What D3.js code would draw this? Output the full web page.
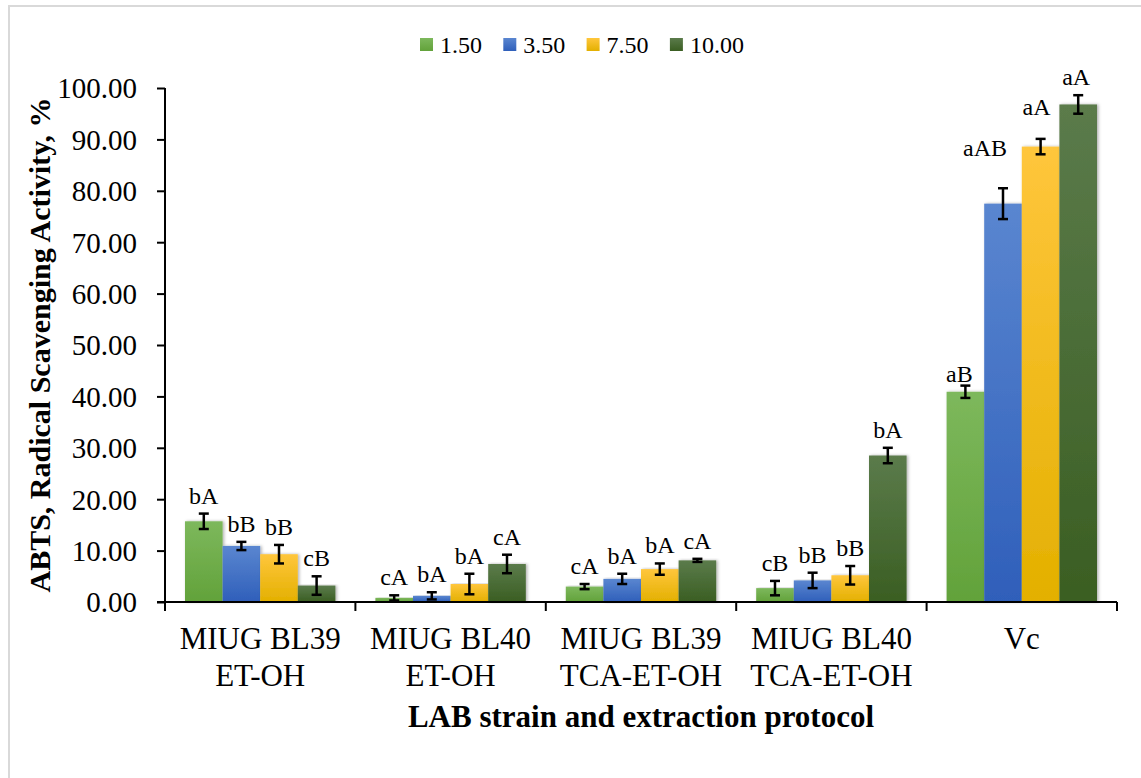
<!DOCTYPE html>
<html>
<head>
<meta charset="utf-8">
<script src="https://cdn.jsdelivr.net/npm/d3@7/dist/d3.min.js"></script>
<style>
  body { margin: 0; background: #fff; }
  text { font-family: "Liberation Serif", "Times New Roman", serif; fill: #000; }
</style>
</head>
<body>
<svg id="chart"></svg>
<script>
// categories (two lines each) and series
var groups = ["MIUG BL39|ET-OH", "MIUG BL40|ET-OH", "MIUG BL39|TCA-ET-OH", "MIUG BL40|TCA-ET-OH", "Vc"];
var series = ["1.50", "3.50", "7.50", "10.00"];

// mean values per series, one entry per group
var v150  = [15.7, 0.8, 3.0, 2.7, 40.9];
var v350  = [10.9, 1.2, 4.5, 4.2, 77.5];
var v750  = [9.3, 3.5, 6.4, 5.2, 88.6];
var v1000 = [3.2, 7.4, 8.1, 28.5, 96.8];

// error (+/-)
var e150  = [1.5, 0.5, 0.5, 1.4, 1.2];
var e350  = [0.8, 0.7, 1.0, 1.5, 3.0];
var e750  = [1.8, 2.0, 1.1, 1.8, 1.5];
var e1000 = [1.8, 1.8, 0.3, 1.5, 1.8];

// significance letters
var l150  = ["bA", "cA", "cA", "cB", "aB"];
var l350  = ["bB", "bA", "bA", "bB", "aAB"];
var l750  = ["bB", "bA", "bA", "bB", "aA"];
var l1000 = ["cB", "cA", "cA", "bA", "aA"];

var yTicks = [0, 10, 20, 30, 40, 50, 60, 70, 80, 90, 100];

var width = 1141, height = 778;
var colors = [["#7db85c", "#62a23a"], ["#5a86d0", "#2f5fba"], ["#ffc63c", "#e3b000"], ["#5b7b4b", "#3a5e22"]];

var vals = [v150, v350, v750, v1000], errs = [e150, e350, e750, e1000], lets = [l150, l350, l750, l1000];
var rows = [];
groups.forEach(function(g, gi) {
  series.forEach(function(s, si) {
    rows.push({g: g, s: s, si: si, v: vals[si][gi], e: errs[si][gi], lab: lets[si][gi]});
  });
});

var svg = d3.select("#chart").attr("width", width).attr("height", height);

// outer frame (clipped at right/bottom like the original crop)
svg.append("rect").attr("x", 9).attr("y", 6).attr("width", 1160).attr("height", 800)
  .attr("fill", "none").attr("stroke", "#d9d9d9").attr("stroke-width", 2);

var defs = svg.append("defs");
colors.forEach(function(c, i) {
  var lg = defs.append("linearGradient").attr("id", "grad" + i)
    .attr("x1", 0).attr("y1", 0).attr("x2", 0).attr("y2", 1);
  lg.append("stop").attr("offset", "0%").attr("stop-color", c[0]);
  lg.append("stop").attr("offset", "100%").attr("stop-color", c[1]);
});
defs.append("filter").attr("id", "shadow").attr("x", "-20%").attr("y", "-5%").attr("width", "140%").attr("height", "110%")
  .append("feDropShadow").attr("dx", 1.5).attr("dy", 0).attr("stdDeviation", 1.5)
  .attr("flood-color", "#000").attr("flood-opacity", 0.3);

var mLeft = 165, mRight = 1117, mTop = 88, mBottom = 602;

var x0 = d3.scaleBand().domain(groups).range([mLeft, mRight]).padding(0);
var bw = x0.bandwidth();
var x1 = d3.scaleBand().domain(series).range([bw * 0.105, bw * 0.895]).padding(0);
var y = d3.scaleLinear().domain([0, 100]).range([mBottom, mTop]);

// bars
svg.append("g").selectAll("rect").data(rows).join("rect")
  .attr("x", function(d) { return x0(d.g) + x1(d.s); })
  .attr("y", function(d) { return y(d.v); })
  .attr("width", x1.bandwidth())
  .attr("height", function(d) { return y(0) - y(d.v); })
  .attr("fill", function(d) { return "url(#grad" + d.si + ")"; })
  .attr("filter", "url(#shadow)");

// y axis
var yAxis = svg.append("g").attr("transform", "translate(" + mLeft + ",0)")
  .call(d3.axisLeft(y).tickValues(yTicks).tickSize(8).tickPadding(20).tickFormat(d3.format(".2f")));
yAxis.select(".domain").attr("stroke", "#000").attr("stroke-width", 2).attr("d", "M0," + mTop + "V" + mBottom);
yAxis.selectAll(".tick line").attr("stroke", "#000").attr("stroke-width", 2);
yAxis.selectAll(".tick text").attr("font-size", 29).attr("font-family", "Liberation Serif").attr("dy", "0.34em");

// x axis
var xAxis = svg.append("g").attr("transform", "translate(0," + mBottom + ")");
xAxis.append("line").attr("x1", mLeft - 8).attr("x2", mRight).attr("stroke", "#000").attr("stroke-width", 2);
var edges = groups.map(function(g) { return x0(g); }).concat([mRight]);
xAxis.selectAll("line.tk").data(edges).join("line").attr("class", "tk")
  .attr("x1", function(d) { return d; }).attr("x2", function(d) { return d; })
  .attr("y1", 0).attr("y2", 9).attr("stroke", "#000").attr("stroke-width", 2);

var cat = svg.append("g").selectAll("text").data(groups).join("text")
  .attr("x", function(d) { return x0(d) + bw / 2; })
  .attr("y", 649)
  .attr("text-anchor", "middle").attr("font-size", 31);
cat.each(function(d) {
  var parts = d.split("|");
  if (parts.length === 1) {
    d3.select(this).text(parts[0]);
  } else {
    var t = d3.select(this);
    parts.forEach(function(p, i) {
      t.append("tspan").attr("x", t.attr("x")).attr("dy", i === 0 ? 0 : 37).text(p);
    });
  }
});

// error bars
var eb = svg.append("g").attr("stroke", "#000").attr("stroke-width", 2.5);
rows.forEach(function(d) {
  var cx = x0(d.g) + x1(d.s) + x1.bandwidth() / 2;
  var y1 = y(d.v + d.e), y2 = y(Math.max(0, d.v - d.e));
  eb.append("line").attr("x1", cx).attr("x2", cx).attr("y1", y1).attr("y2", y2);
  eb.append("line").attr("x1", cx - 5).attr("x2", cx + 5).attr("y1", y1).attr("y2", y1);
  eb.append("line").attr("x1", cx - 5).attr("x2", cx + 5).attr("y1", y2).attr("y2", y2);
});

// letters above error bars (Vc ones were hand-placed in the original)
var nudge = {"Vc|1.50": [-6, 6], "Vc|3.50": [-18, -22], "Vc|7.50": [-4, -14], "Vc|10.00": [-2, 0]};
svg.append("g").selectAll("text").data(rows).join("text")
  .attr("x", function(d) {
    var n = nudge[d.g + "|" + d.s] || [0, 0];
    return x0(d.g) + x1(d.s) + x1.bandwidth() / 2 + n[0];
  })
  .attr("y", function(d) {
    var n = nudge[d.g + "|" + d.s] || [0, 0];
    return y(d.v + d.e) - 10 + n[1];
  })
  .attr("text-anchor", "middle").attr("font-size", 24)
  .text(function(d) { return d.lab; });

// axis titles
svg.append("text").attr("transform", "translate(50," + ((mTop + mBottom) / 2) + ") rotate(-90)")
  .attr("text-anchor", "middle").attr("font-size", 30).attr("font-weight", "bold")
  .text("ABTS, Radical Scavenging Activity, %");
svg.append("text").attr("x", (mLeft + mRight) / 2).attr("y", 727)
  .attr("text-anchor", "middle").attr("font-size", 31).attr("font-weight", "bold")
  .text("LAB strain and extraction protocol");

// legend
var lg = svg.append("g").selectAll("g").data(series).join("g")
  .attr("transform", function(d, i) { return "translate(" + (420 + i * 83.3) + ",38)"; });
lg.append("rect").attr("width", 13).attr("height", 13)
  .attr("fill", function(d, i) { return "url(#grad" + i + ")"; });
lg.append("text").attr("x", 20).attr("y", 15).attr("font-size", 24).text(function(d) { return d; });
</script>
</body>
</html>
